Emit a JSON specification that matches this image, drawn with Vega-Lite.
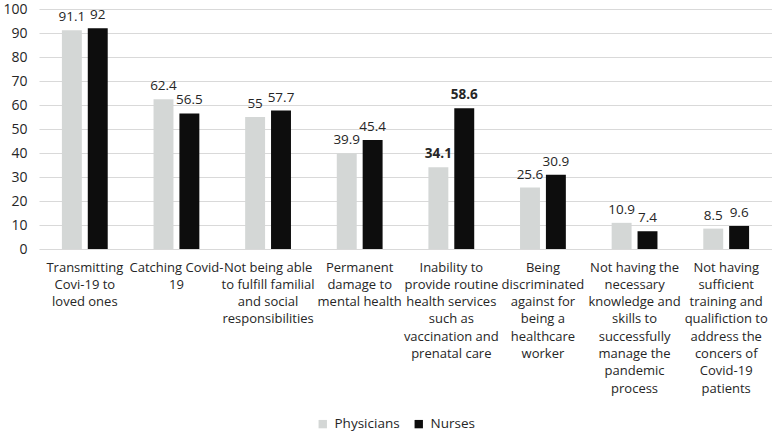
{
  "$schema": "https://vega.github.io/schema/vega-lite/v6.json",
  "width": 733,
  "height": 240,
  "autosize": {"type": "none"},
  "padding": {"left": 39, "top": 9, "right": 0, "bottom": 185},
  "background": "white",
  "config": {
    "view": {"stroke": null},
    "font": "Open Sans",
    "text": {"font": "Open Sans"}
  },
  "data": {
    "values": [
      {"category": "Transmitting|Covi-19 to|loved ones", "series": "Physicians", "value": 91.1},
      {"category": "Transmitting|Covi-19 to|loved ones", "series": "Nurses", "value": 92},
      {"category": "Catching Covid-|19", "series": "Physicians", "value": 62.4},
      {"category": "Catching Covid-|19", "series": "Nurses", "value": 56.5},
      {"category": "Not being able|to fulfill familial|and social|responsibilities", "series": "Physicians", "value": 55},
      {"category": "Not being able|to fulfill familial|and social|responsibilities", "series": "Nurses", "value": 57.7},
      {"category": "Permanent|damage to|mental health", "series": "Physicians", "value": 39.9},
      {"category": "Permanent|damage to|mental health", "series": "Nurses", "value": 45.4},
      {"category": "Inability to|provide routine|health services|such as|vaccination and|prenatal care", "series": "Physicians", "value": 34.1},
      {"category": "Inability to|provide routine|health services|such as|vaccination and|prenatal care", "series": "Nurses", "value": 58.6},
      {"category": "Being|discriminated|against for|being a|healthcare|worker", "series": "Physicians", "value": 25.6},
      {"category": "Being|discriminated|against for|being a|healthcare|worker", "series": "Nurses", "value": 30.9},
      {"category": "Not having the|necessary|knowledge and|skills to|successfully|manage the|pandemic|process", "series": "Physicians", "value": 10.9},
      {"category": "Not having the|necessary|knowledge and|skills to|successfully|manage the|pandemic|process", "series": "Nurses", "value": 7.4},
      {"category": "Not having|sufficient|training and|qualifiction to|address the|concers of|Covid-19|patients", "series": "Physicians", "value": 8.5},
      {"category": "Not having|sufficient|training and|qualifiction to|address the|concers of|Covid-19|patients", "series": "Nurses", "value": 9.6}
    ]
  },
  "encoding": {
    "x": {
      "field": "category",
      "type": "nominal",
      "sort": null,
      "scale": {"paddingInner": 0.5, "paddingOuter": 0.25},
      "axis": {
        "title": null,
        "labelAngle": 0,
        "labelExpr": "split(datum.label, '|')",
        "domain": false,
        "ticks": false,
        "labelFontSize": 13,
        "labelLineHeight": 17.3,
        "labelPadding": 12,
        "labelColor": "#262626",
        "labelLimit": 200,
        "labelBaseline": "top",
        "labelFont": "Open Sans"
      }
    },
    "xOffset": {
      "field": "series",
      "type": "nominal",
      "sort": ["Physicians", "Nurses"],
      "scale": {"paddingInner": 0.23}
    },
    "y": {
      "field": "value",
      "type": "quantitative",
      "scale": {"domain": [0, 100]},
      "axis": {
        "title": null,
        "values": [0, 10, 20, 30, 40, 50, 60, 70, 80, 90, 100],
        "domain": false,
        "ticks": false,
        "gridColor": "#d9d9d9",
        "labelFontSize": 14,
        "labelPadding": 12,
        "labelColor": "#262626",
        "labelFont": "Open Sans"
      }
    }
  },
  "layer": [
    {
      "mark": {"type": "bar"},
      "encoding": {
        "color": {
          "field": "series",
          "type": "nominal",
          "sort": ["Physicians", "Nurses"],
          "scale": {"domain": ["Physicians", "Nurses"], "range": ["#d4d7d6", "#0d0d0d"]},
          "legend": {
            "title": null,
            "orient": "none",
            "direction": "horizontal",
            "legendX": 277,
            "legendY": 408,
            "symbolType": "square",
            "symbolSize": 70,
            "symbolStrokeWidth": 0,
            "labelFontSize": 13.5,
            "labelColor": "#262626",
            "labelFont": "Open Sans",
            "labelOffset": 5,
            "columnPadding": 12
          }
        }
      }
    },
    {
      "transform": [{"filter": "datum.value != 34.1 && datum.value != 58.6"}],
      "mark": {"type": "text", "baseline": "bottom", "dy": -6, "fontSize": 13.5, "color": "#262626", "font": "Open Sans"},
      "encoding": {
        "text": {"field": "value", "type": "nominal"}
      }
    },
    {
      "transform": [{"filter": "datum.value == 34.1 || datum.value == 58.6"}],
      "mark": {"type": "text", "baseline": "bottom", "dy": -6, "fontSize": 13.5, "fontWeight": "bold", "color": "#262626", "font": "Open Sans"},
      "encoding": {
        "text": {"field": "value", "type": "nominal"}
      }
    }
  ]
}
